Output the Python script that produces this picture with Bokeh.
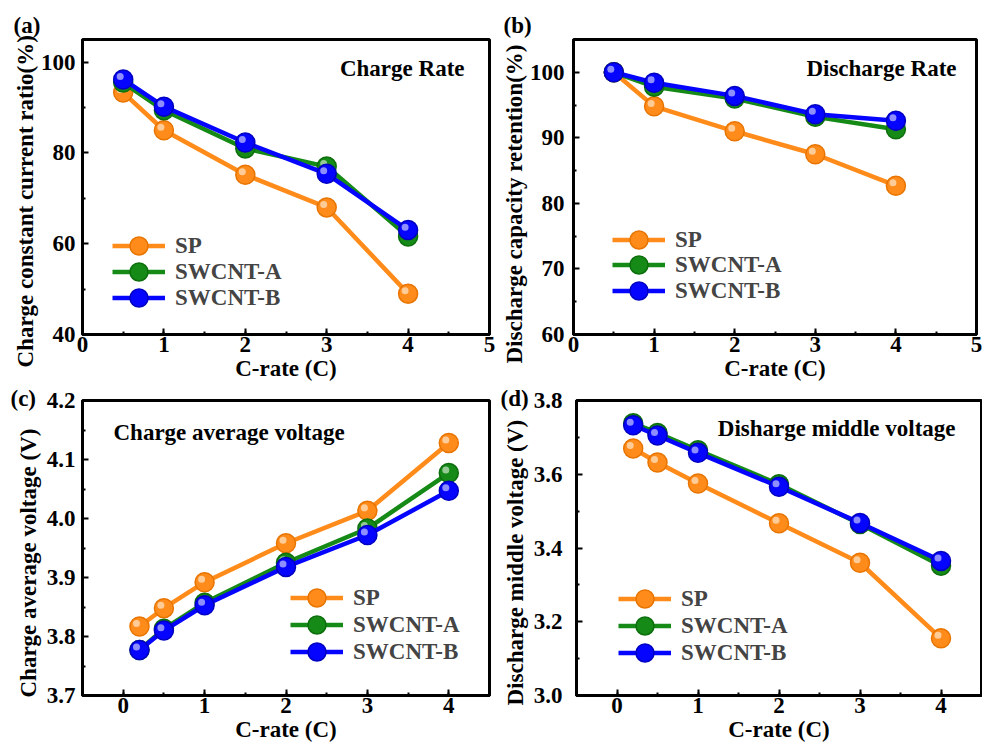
from bokeh.plotting import figure
from bokeh.layouts import column, row
from bokeh.models import (SingleIntervalTicker, FixedTicker, NumeralTickFormatter, Label,
                          Range1d, Legend, LegendItem, Title)
from bokeh.transform import dodge
from bokeh.embed import file_html
from bokeh.resources import INLINE

FONT = "Liberation Serif"
FS = "23px"

series_names = ["SP", "SWCNT-A", "SWCNT-B"]
series_colors = ["#FF8C1A", "#168A16", "#0505FF"]
edge_colors = ["#E87400", "#0C6E0C", "#0000C0"]

# (a) Charge rate
a_x = [0.5, 1, 2, 3, 4]
a_sp = [93.3, 85.0, 75.2, 68.0, 49.0]
a_swa = [95.5, 89.4, 81.0, 77.0, 61.6]
a_swb = [96.2, 90.2, 82.3, 75.4, 63.0]
a_yticks = [40, 60, 80, 100]
a_yminor = [50, 70, 90]

# (b) Discharge rate
b_x = [0.5, 1, 2, 3, 4]
b_sp = [100.0, 94.8, 91.0, 87.5, 82.7]
b_swa = [100.0, 97.8, 96.0, 93.2, 91.3]
b_swb = [100.0, 98.4, 96.4, 93.6, 92.6]
b_yticks = [60, 70, 80, 90, 100]
b_yminor = [65, 75, 85, 95]

# (c) Charge average voltage
c_x = [0.2, 0.5, 1, 2, 3, 4]
c_sp = [3.817, 3.848, 3.892, 3.958, 4.013, 4.128]
c_swa = [3.777, 3.813, 3.857, 3.925, 3.983, 4.077]
c_swb = [3.777, 3.810, 3.853, 3.918, 3.972, 4.047]
c_yticks = [3.7, 3.8, 3.9, 4.0, 4.1, 4.2]
c_yminor = [3.75, 3.85, 3.95, 4.05, 4.15]

# (d) Discharge middle voltage
d_x = [0.2, 0.5, 1, 2, 3, 4]
d_sp = [3.670, 3.632, 3.575, 3.467, 3.360, 3.155]
d_swa = [3.738, 3.712, 3.665, 3.573, 3.465, 3.352]
d_swb = [3.733, 3.705, 3.658, 3.566, 3.468, 3.365]
d_yticks = [3.0, 3.2, 3.4, 3.6, 3.8]
d_yminor = [3.1, 3.3, 3.5, 3.7]

x_label = "C-rate (C)"


def text_style(obj):
    obj.text_font = FONT
    obj.text_font_style = "bold"
    obj.text_font_size = FS
    obj.text_color = "black"


def make_panel(x, ys, xr, yr, yticks, yminor, yfmt, ylabel, ystand, yoff, ylstand,
               title, title_left, tdx, tdy, letter, ldx, lstand, leg_x, leg_ys,
               w, h, bl, br, bt, bb):
    p = figure(width=w, height=h, output_backend="svg", toolbar_location=None,
               x_range=Range1d(*xr), y_range=Range1d(*yr),
               min_border_left=bl, min_border_right=br,
               min_border_top=bt, min_border_bottom=bb, title=letter)
    p.title.align = "left"
    p.title.offset = ldx
    p.title.standoff = lstand
    p.title.vertical_align = "bottom"
    text_style(p.title)

    p.xgrid.visible = False
    p.ygrid.visible = False
    p.outline_line_color = "black"
    p.outline_line_width = 3
    p.outline_line_alpha = 1

    p.xaxis.ticker = SingleIntervalTicker(interval=1, num_minor_ticks=2)
    p.yaxis.ticker = FixedTicker(ticks=yticks, minor_ticks=yminor)
    p.yaxis.formatter = NumeralTickFormatter(format=yfmt)
    p.xaxis.formatter = NumeralTickFormatter(format="0")
    for ax in (p.xaxis, p.yaxis):
        ax.axis_line_width = 3
        ax.major_tick_in = 6
        ax.major_tick_out = 0
        ax.minor_tick_in = 3
        ax.minor_tick_out = 0
        ax.major_tick_line_width = 2
        ax.minor_tick_line_width = 2
        ax.major_label_text_font = FONT
        ax.major_label_text_font_style = "bold"
        ax.major_label_text_font_size = FS
        ax.major_label_text_color = "black"
        ax.axis_label_text_font = FONT
        ax.axis_label_text_font_style = "bold"
        ax.axis_label_text_color = "black"
        ax.axis_label_text_font_size = FS
    p.xaxis.major_label_standoff = 2
    p.xaxis.axis_label_standoff = 1
    p.yaxis.major_label_standoff = ystand
    p.xaxis.axis_label = x_label

    yt = Title(text=ylabel, align="left", offset=yoff, standoff=ylstand,
               vertical_align="bottom")
    text_style(yt)
    p.add_layout(yt, "left")

    # pixel-sized glint offset converted into data units of this panel
    gx = -3.0 * (xr[1] - xr[0]) / 407.0
    gy = 3.0 * (yr[1] - yr[0]) / 298.0

    for name, color, edge, yv, ly in zip(series_names, series_colors, edge_colors, ys, leg_ys):
        src = {"x": x, "y": yv}
        lr = p.line("x", "y", source=src, line_color=color, line_width=4.5)
        sr = p.scatter("x", "y", source=src, size=19, fill_color=color,
                       line_color=edge, line_width=1.5)
        p.scatter(x=dodge("x", gx, range=p.x_range), y=dodge("y", gy, range=p.y_range),
                  source=src, size=7, fill_color="white", fill_alpha=0.55, line_alpha=0)
        lg = Legend(items=[LegendItem(label=name, renderers=[lr, sr])],
                    location=(leg_x, ly))
        lg.background_fill_alpha = 0
        lg.border_line_alpha = 0
        lg.padding = 0
        lg.margin = 0
        lg.glyph_width = 53
        lg.glyph_height = 45
        lg.label_standoff = 10
        lg.label_text_font = FONT
        lg.label_text_font_style = "bold"
        lg.label_text_font_size = FS
        p.add_layout(lg)

    if title_left:
        lab = Label(x=xr[0], y=yr[1], x_offset=tdx, y_offset=tdy, text=title,
                    text_align="left", text_baseline="middle")
    else:
        lab = Label(x=xr[1], y=yr[1], x_offset=tdx, y_offset=tdy, text=title,
                    text_align="right", text_baseline="middle")
    text_style(lab)
    p.add_layout(lab)
    return p


pa = make_panel(a_x, [a_sp, a_swa, a_swb], (0, 5), (40, 105), a_yticks, a_yminor, "0",
                "Charge constant current ratio(%)", 7, -33, 0,
                "Charge Rate", False, -25, -29,
                "(a)", -69, 3, 30, [66, 40, 14], 498, 386, 82, 9, 36, 52)
pb = make_panel(b_x, [b_sp, b_swa, b_swb], (0, 5), (60, 105), b_yticks, b_yminor, "0",
                "Discharge capacity retention(%)", 9, -29, 0,
                "Discharge Rate", False, -20, -29,
                "(b)", -70, 3, 39, [72, 47, 21], 484, 386, 75, 6, 39, 52)
pc = make_panel(c_x, [c_sp, c_swa, c_swb], (-0.5, 4.5), (3.7, 4.2), c_yticks, c_yminor, "0.0",
                "Charge average voltage (V)", 7, -2, 5,
                "Charge average voltage", True, 31, -32,
                "(c)", -72, -21, 208, [75, 48, 21], 498, 364, 82, 9, 14, 54)
pd = make_panel(d_x, [d_sp, d_swa, d_swb], (-0.5, 4.5), (3.0, 3.8), d_yticks, d_yminor, "0.0",
                "Discharge middle voltage (V)", 14, -10, 5,
                "Disharge middle voltage", False, -26, -28,
                "(d)", -76, -20, 42, [74, 47, 20], 484, 364, 78, 1, 14, 55)

layout = column(row(pa, pb), row(pc, pd))
open("out.html", "w").write(file_html(layout, INLINE))
